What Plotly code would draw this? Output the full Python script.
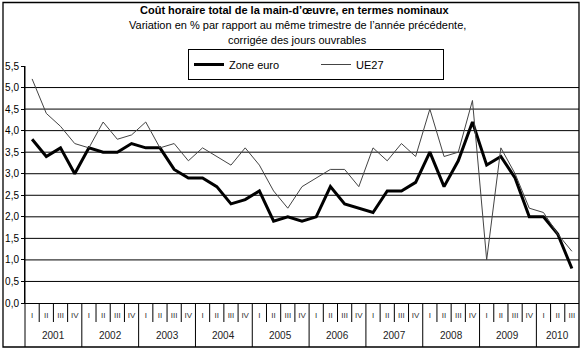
import plotly.graph_objects as go

years = ["2001", "2002", "2003", "2004", "2005", "2006", "2007", "2008", "2009", "2010"]
quarters = ["I", "II", "III", "IV"]
quarter_labels = [q for y in years[:-1] for q in quarters] + ["I", "II", "III"]

zone_euro = [3.8, 3.4, 3.6, 3.0, 3.6, 3.5, 3.5, 3.7, 3.6, 3.6, 3.1, 2.9,
             2.9, 2.7, 2.3, 2.4, 2.6, 1.9, 2.0, 1.9, 2.0, 2.7, 2.3, 2.2,
             2.1, 2.6, 2.6, 2.8, 3.5, 2.7, 3.3, 4.2, 3.2, 3.4, 2.9, 2.0,
             2.0, 1.6, 0.8]
ue27 = [5.2, 4.4, 4.1, 3.7, 3.6, 4.2, 3.8, 3.9, 4.2, 3.6, 3.7, 3.3,
        3.6, 3.4, 3.2, 3.6, 3.2, 2.6, 2.2, 2.7, 2.9, 3.1, 3.1, 2.7,
        3.6, 3.3, 3.7, 3.4, 4.5, 3.4, 3.5, 4.7, 1.0, 3.6, 3.0, 2.2,
        2.1, 1.6, 1.2]
y_ticks = [0.0, 0.5, 1.0, 1.5, 2.0, 2.5, 3.0, 3.5, 4.0, 4.5, 5.0, 5.5]

FONT = "Liberation Sans, Arial, sans-serif"
W, H = 583, 349
ML, MR, MT, MB = 25, 4, 66, 46
PW, PH = W - ML - MR, H - MT - MB

def px_x(px):
    return (px - ML) / PW

def px_y(py):
    return (H - MB - py) / PH

n = len(quarter_labels)
xs = list(range(n))

fig = go.Figure()
fig.add_trace(go.Scatter(x=xs, y=zone_euro, mode="lines", name="Zone euro",
                         line=dict(color="black", width=3)))
fig.add_trace(go.Scatter(x=xs, y=ue27, mode="lines", name="UE27",
                         line=dict(color="#444444", width=1)))

shapes = []
for v in y_ticks[1:-1]:
    shapes.append(dict(type="line", xref="paper", yref="y", x0=0, x1=1, y0=v, y1=v,
                       line=dict(color="black", width=1), layer="below"))
for i in range(n - 1):
    b = i + 0.5
    year_sep = (i + 1) % 4 == 0
    shapes.append(dict(type="line", xref="x", yref="paper", x0=b, x1=b,
                       y0=0, y1=px_y(347) if year_sep else px_y(322),
                       line=dict(color="black", width=1)))
shapes.append(dict(type="line", xref="paper", yref="paper", x0=0, x1=0,
                   y0=px_y(347), y1=1, line=dict(color="black", width=1)))
shapes.append(dict(type="rect", xref="paper", yref="paper",
                   x0=px_x(3), x1=px_x(579), y0=px_y(347), y1=px_y(2.5),
                   line=dict(color="black", width=1.3)))

annotations = []
for k, yr in enumerate(years):
    cnt = 4 if k < len(years) - 1 else 3
    center = 4 * k + (cnt - 1) / 2
    annotations.append(dict(x=center, y=px_y(335), xref="x", yref="paper", text=yr,
                            showarrow=False, font=dict(family=FONT, size=10, color="#222"),
                            yanchor="middle"))
annotations.append(dict(x=px_x(295), y=px_y(10), xref="paper", yref="paper",
                        text="<b>Coût horaire total de la main-d’œuvre, en termes nominaux</b>",
                        showarrow=False, font=dict(family=FONT, size=11, color="black"),
                        yanchor="middle"))
annotations.append(dict(x=px_x(297), y=px_y(25), xref="paper", yref="paper",
                        text="Variation en % par rapport au même trimestre de l’année précédente,",
                        showarrow=False, font=dict(family=FONT, size=11, color="black"),
                        yanchor="middle"))
annotations.append(dict(x=px_x(297), y=px_y(40), xref="paper", yref="paper",
                        text="corrigée des jours ouvrables",
                        showarrow=False, font=dict(family=FONT, size=11, color="black"),
                        yanchor="middle"))

fig.update_layout(
    width=W, height=H,
    margin=dict(l=ML, r=MR, t=MT, b=MB),
    paper_bgcolor="white", plot_bgcolor="white",
    font=dict(family=FONT, size=10, color="black"),
    showlegend=True,
    legend=dict(orientation="h", x=px_x(188), y=px_y(49), xanchor="left", yanchor="top",
                bordercolor="black", borderwidth=1, bgcolor="white",
                font=dict(family=FONT, size=11, color="black"),
                entrywidth=82, entrywidthmode="pixels"),
    xaxis=dict(range=[-0.5, n - 0.5], tickmode="array", tickvals=xs, ticktext=quarter_labels,
               showgrid=False, zeroline=False, showline=True, linecolor="black", linewidth=1,
               ticks="", tickfont=dict(family=FONT, size=8, color="#333"),
               ticklabelstandoff=4, fixedrange=True),
    yaxis=dict(range=[0, 5.5], tickmode="array", tickvals=y_ticks,
               ticktext=[f"{v:.1f}".replace(".", ",") for v in y_ticks],
               showgrid=False, zeroline=False, showline=True, linecolor="black", linewidth=1,
               ticks="outside", ticklen=3, tickcolor="black",
               tickfont=dict(family=FONT, size=10, color="black"), fixedrange=True),
    shapes=shapes, annotations=annotations,
)

fig.write_html("out.html")
